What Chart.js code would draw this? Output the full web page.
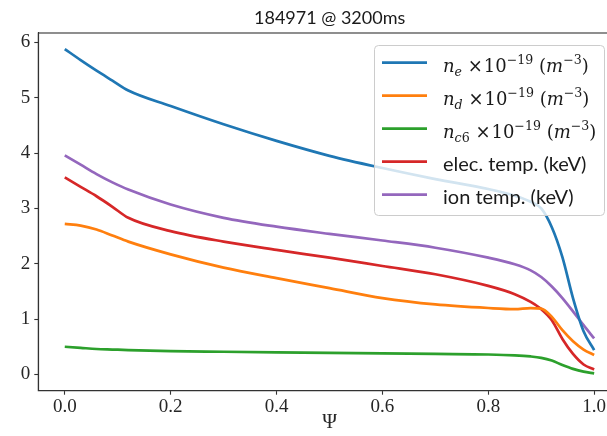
<!DOCTYPE html>
<html><head><meta charset="utf-8">
<script src="https://cdn.jsdelivr.net/npm/chart.js@4.4.1/dist/chart.umd.min.js"></script>
<style>
html,body{margin:0;padding:0;overflow:hidden;background:#fff;width:607px;height:436px}
#wrap{width:640px;height:436px}
</style></head><body><div id="wrap"><canvas id="c" width="640" height="436"></canvas></div>
<script>
// ---- data ----
const psi      = [0, 0.03, 0.06, 0.09, 0.12, 0.2, 0.3, 0.4, 0.5, 0.6, 0.7, 0.8, 0.85, 0.88, 0.9, 0.92, 0.94, 0.96, 0.98, 1.0];
const neVals   = [5.88, 5.68, 5.49, 5.31, 5.13, 4.85, 4.52, 4.22, 3.95, 3.73, 3.53, 3.35, 3.23, 3.12, 3.00, 2.66, 2.12, 1.38, 0.78, 0.44];
const ndVals   = [2.72, 2.69, 2.62, 2.51, 2.40, 2.17, 1.93, 1.74, 1.56, 1.38, 1.265, 1.20, 1.18, 1.20, 1.19, 1.04, 0.80, 0.60, 0.45, 0.35];
const nc6Vals  = [0.50, 0.48, 0.46, 0.45, 0.44, 0.42, 0.41, 0.40, 0.39, 0.38, 0.37, 0.36, 0.345, 0.325, 0.30, 0.25, 0.17, 0.10, 0.05, 0.02];
const teVals   = [3.56, 3.39, 3.22, 3.03, 2.83, 2.59, 2.40, 2.25, 2.11, 1.96, 1.81, 1.60, 1.45, 1.31, 1.18, 0.98, 0.64, 0.37, 0.18, 0.09];
const tiVals   = [3.96, 3.79, 3.62, 3.47, 3.34, 3.07, 2.83, 2.67, 2.54, 2.42, 2.29, 2.11, 1.99, 1.88, 1.76, 1.59, 1.38, 1.14, 0.89, 0.65];
const xTicks   = [0, 0.2, 0.4, 0.6, 0.8, 1.0];
const yTicks   = [0, 1, 2, 3, 4, 5, 6];
const seriesLabels = ['n_{e} ×10^{−19} (m^{−3})', 'n_{d} ×10^{−19} (m^{−3})', 'n_{c6} ×10^{−19} (m^{−3})', 'elec. temp. (keV)', 'ion temp. (keV)'];
const seriesColors = ['#1f77b4', '#ff7f0e', '#2ca02c', '#d62728', '#9467bd'];
const titleText = '184971 @ 3200ms';
const xLabel = 'Ψ';

const seriesValues = [neVals, ndVals, nc6Vals, teVals, tiVals];

function parseMath(s){
  const segs=[]; let i=0;
  while(i<s.length){
    const c=s[i];
    if((c==='_'||c==='^') && s[i+1]==='{'){
      const j=s.indexOf('}',i);
      segs.push({t:s.slice(i+2,j), lvl:c==='_'?-1:1});
      i=j+1;
    } else { segs.push({t:c,lvl:0}); i++; }
  }
  return segs;
}

const framePlugin = {
  id:'frame',
  afterDatasetsDraw(chart){
    const {ctx, chartArea:a} = chart;
    ctx.save();
    ctx.strokeStyle='#333'; ctx.lineWidth=1.1;
    ctx.strokeRect(a.left, a.top, a.right-a.left, a.bottom-a.top);
    // title
    ctx.fillStyle='#1a1a1a';
    ctx.font='18px Lato';
    ctx.textAlign='center'; ctx.textBaseline='alphabetic';
    ctx.fillText(titleText, (a.left+a.right)/2, a.top-9);
    // legend
    const bw=230, bh=170;
    const bx=a.right-17-bw, by=a.top+12;
    ctx.beginPath();
    ctx.roundRect(bx+0.5, by+0.5, bw, bh, 4);
    ctx.fillStyle='rgba(255,255,255,0.8)'; ctx.fill();
    ctx.strokeStyle='#cccccc'; ctx.lineWidth=1; ctx.stroke();
    seriesLabels.forEach((lab,i)=>{
      const ly = by + 17.7 + i*33;
      ctx.beginPath();
      ctx.strokeStyle=seriesColors[i]; ctx.lineWidth=2.8; ctx.lineCap='butt';
      ctx.moveTo(bx+8, ly); ctx.lineTo(bx+53, ly); ctx.stroke();
      let x = bx+69; const base = ly+9;
      ctx.fillStyle='#1a1a1a'; ctx.textAlign='left'; ctx.textBaseline='alphabetic';
      if(lab.indexOf('_{')>=0 || lab.indexOf('^{')>=0){
        const segs=parseMath(lab);
        segs.forEach(sg=>{
          const size = sg.lvl===0?18:12.6;
          const dy = sg.lvl===-1?4.5:(sg.lvl===1?-8:0);
          for(const ch of sg.t){
            const it = /[a-z]/i.test(ch);
            ctx.font=(it?'italic ':'')+size+'px "DejaVu Serif"';
            ctx.fillText(ch, x, base+dy);
            x += ctx.measureText(ch).width;
            if(ch==='×') x+=1;
          }
        });
      } else {
        ctx.font='20px Lato';
        ctx.fillText(lab, x, base);
      }
    });
    ctx.restore();
  }
};

const datasets = seriesValues.map((vals,k)=>({
  label: seriesLabels[k],
  data: psi.map((p,i)=>({x:p, y:vals[i]})),
  borderColor: seriesColors[k],
  backgroundColor: seriesColors[k],
  borderWidth: 2.7,
  pointRadius: 0,
  fill: false,
  cubicInterpolationMode: 'monotone'
}));

const tickFont = {family:'"Liberation Serif"', size:19};
new Chart(document.getElementById('c'), {
  type:'line',
  data:{datasets},
  plugins:[framePlugin],
  options:{
    responsive:false, animation:false, devicePixelRatio:1,
    layout:{padding:{top:33, right:19, left:0, bottom:0}},
    plugins:{legend:{display:false}, title:{display:false}, tooltip:{enabled:false}},
    scales:{
      x:{
        type:'linear', min:-0.05, max:1.0507,
        afterBuildTicks(s){ s.ticks = xTicks.map(v=>({value:v})); },
        afterFit(s){ s.height = 45.3; },
        ticks:{callback:v=>v.toFixed(1), font:tickFont, color:'#262626', padding:1, maxRotation:0, autoSkip:false},
        grid:{drawOnChartArea:false, drawTicks:true, tickLength:4, color:'#333', tickWidth:1.1},
        border:{display:true, color:'#333', width:1.1},
        title:{display:true, text:xLabel, font:{family:'"Liberation Serif"', size:20}, color:'#262626', padding:{top:0,bottom:1}}
      },
      y:{
        type:'linear', min:-0.294, max:6.17,
        afterBuildTicks(s){ s.ticks = yTicks.map(v=>({value:v})); },
        afterFit(s){ s.width = 38.3; },
        ticks:{callback:v=>String(v), font:tickFont, color:'#262626', padding:4, autoSkip:false},
        grid:{drawOnChartArea:false, drawTicks:true, tickLength:4, color:'#333', tickWidth:1.1},
        border:{display:true, color:'#333', width:1.1}
      }
    }
  }
});
</script></body></html>
